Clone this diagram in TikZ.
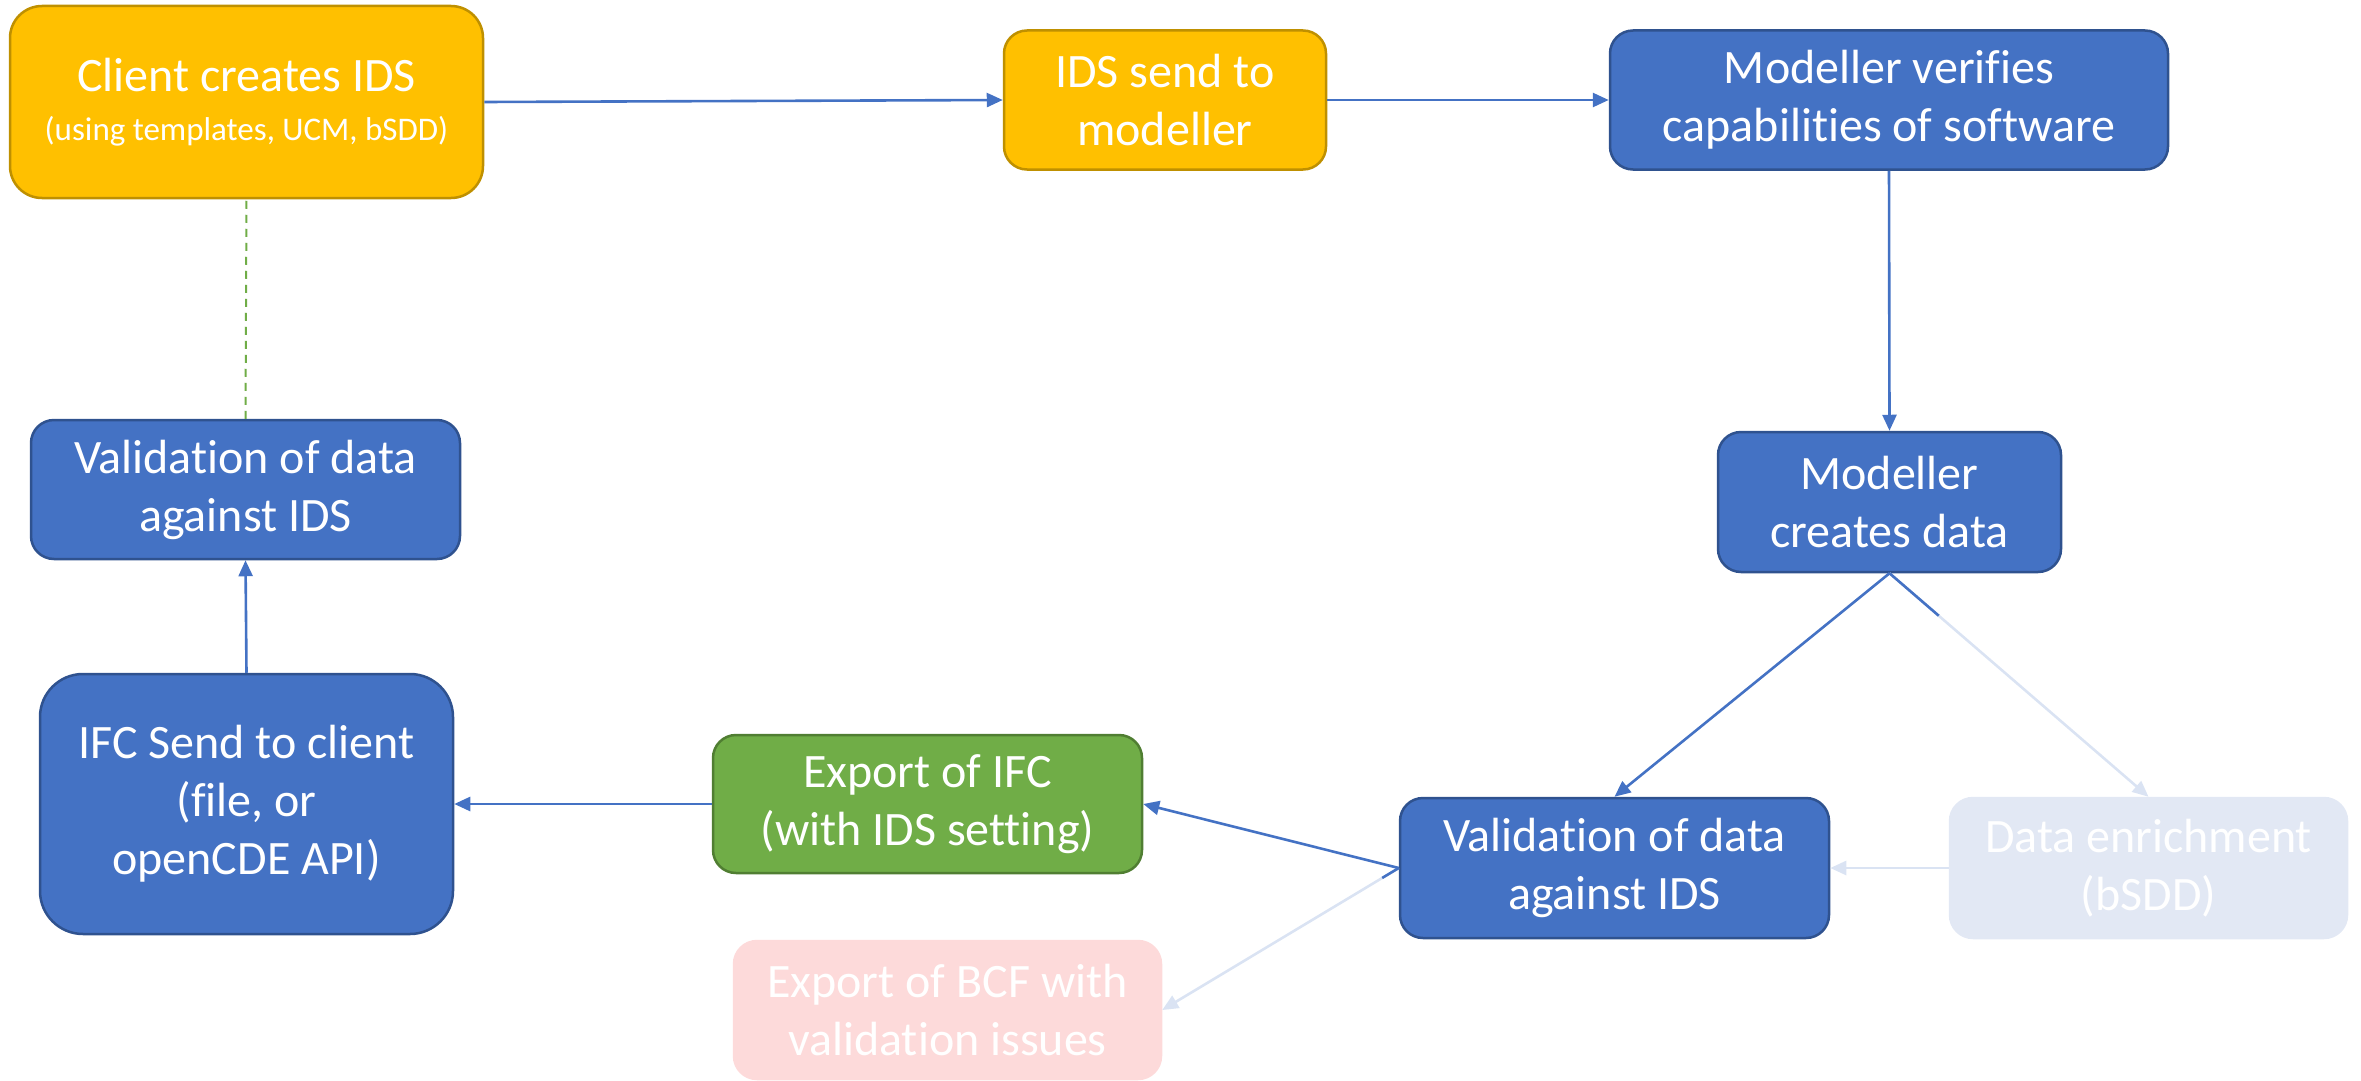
\documentclass[tikz,border=0pt]{standalone}
\usepackage{fontspec}
\setmainfont{Carlito}[Ligatures=NoCommon]
\usetikzlibrary{arrows.meta,calc}

\definecolor{gold}{HTML}{FFC000}
\definecolor{goldline}{HTML}{BF9000}
\definecolor{steel}{HTML}{4472C4}
\definecolor{steelline}{HTML}{2F528F}
\definecolor{leaf}{HTML}{70AD47}
\definecolor{leafline}{HTML}{507E32}
\definecolor{paleblue}{HTML}{E2E8F4}
\definecolor{palepink}{HTML}{FDDADA}
\definecolor{fadeline}{HTML}{DAE3F3}

\tikzset{
  box/.style={rectangle, draw, line width=2.5pt, text=white, align=center,
    inner sep=0pt, font=\fontsize{48}{58}\selectfont},
  goldbox/.style={box, fill=gold, draw=goldline},
  bluebox/.style={box, fill=steel, draw=steelline},
  greenbox/.style={box, fill=leaf, draw=leafline},
  fadebluebox/.style={box, fill=paleblue, draw=paleblue},
  fadepinkbox/.style={box, fill=palepink, draw=palepink},
  flow/.style={draw=steel, line width=2.6pt, -{Triangle[length=16pt,width=14pt]}},
  fadeflow/.style={draw=fadeline, line width=2.6pt, -{Triangle[length=16pt,width=14pt]}},
  seg/.style={draw=steel, line width=2.6pt},
  link/.style={draw=leaf, line width=2pt, dash pattern=on 8pt off 6pt},
}

\begin{document}
\begin{tikzpicture}[x=1pt,y=-1pt]
  \useasboundingbox (0,0) rectangle (2361,1081);

  % process steps
  \node[goldbox, minimum width=473pt, minimum height=192pt, rounded corners=32pt]
    (client) at (246.5,102)
    {Client creates IDS\\[-9pt]{\fontsize{33}{40}\selectfont (using templates, UCM, bSDD)}};
  \node[goldbox, minimum width=322pt, minimum height=139pt, rounded corners=23pt]
    (send) at (1165,100) {IDS send to\\modeller};
  \node[bluebox, minimum width=558pt, minimum height=139pt, rounded corners=23pt]
    (verify) at (1889,100) {Modeller verifies\\capabilities of software};
  \node[bluebox, minimum width=343pt, minimum height=140pt, rounded corners=23pt]
    (creates) at (1889.5,502) {Modeller\\creates data};
  \node[bluebox, minimum width=429pt, minimum height=140pt, rounded corners=23pt]
    (validR) at (1614.5,868) {Validation of data\\against IDS};
  \node[fadebluebox, minimum width=397pt, minimum height=140pt, rounded corners=23pt]
    (enrich) at (2148.5,868) {Data enrichment\\(bSDD)};
  \node[greenbox, minimum width=429pt, minimum height=138pt, rounded corners=23pt]
    (ifc) at (927.5,804) {Export of IFC\\(with IDS setting)};
  \node[fadepinkbox, minimum width=427pt, minimum height=138pt, rounded corners=23pt]
    (bcf) at (947.5,1010) {Export of BCF with\\validation issues};
  \node[bluebox, minimum width=413pt, minimum height=260pt, rounded corners=43pt]
    (deliver) at (246.5,804) {IFC Send to client\\(file, or\\openCDE API)};
  \node[bluebox, minimum width=429pt, minimum height=139pt, rounded corners=23pt]
    (validL) at (245.5,489.5) {Validation of data\\against IDS};

  % faded (optional) connectors
  \draw[fadeflow] (creates.south) -- (enrich.north);
  \draw[fadeflow] (enrich.west) -- (validR.east);
  \draw[fadeflow] (validR.west) -- (bcf.east);
  \draw[seg] (creates.south) -- ($(creates.south)!0.19!(enrich.north)$);
  \draw[seg] (validR.west) -- ($(validR.west)!0.07!(bcf.east)$);

  % main flow
  \draw[flow] (client.east) -- (send.west);
  \draw[flow] (send.east) -- (verify.west);
  \draw[flow] (verify.south) -- (creates.north);
  \draw[flow] (creates.south) -- (validR.north);
  \draw[flow] (validR.west) -- (ifc.east);
  \draw[flow] (ifc.west) -- (deliver.east);
  \draw[flow] (deliver.north) -- (validL.south);
  \draw[link] (validL.north) -- (client.south);
\end{tikzpicture}
\end{document}
